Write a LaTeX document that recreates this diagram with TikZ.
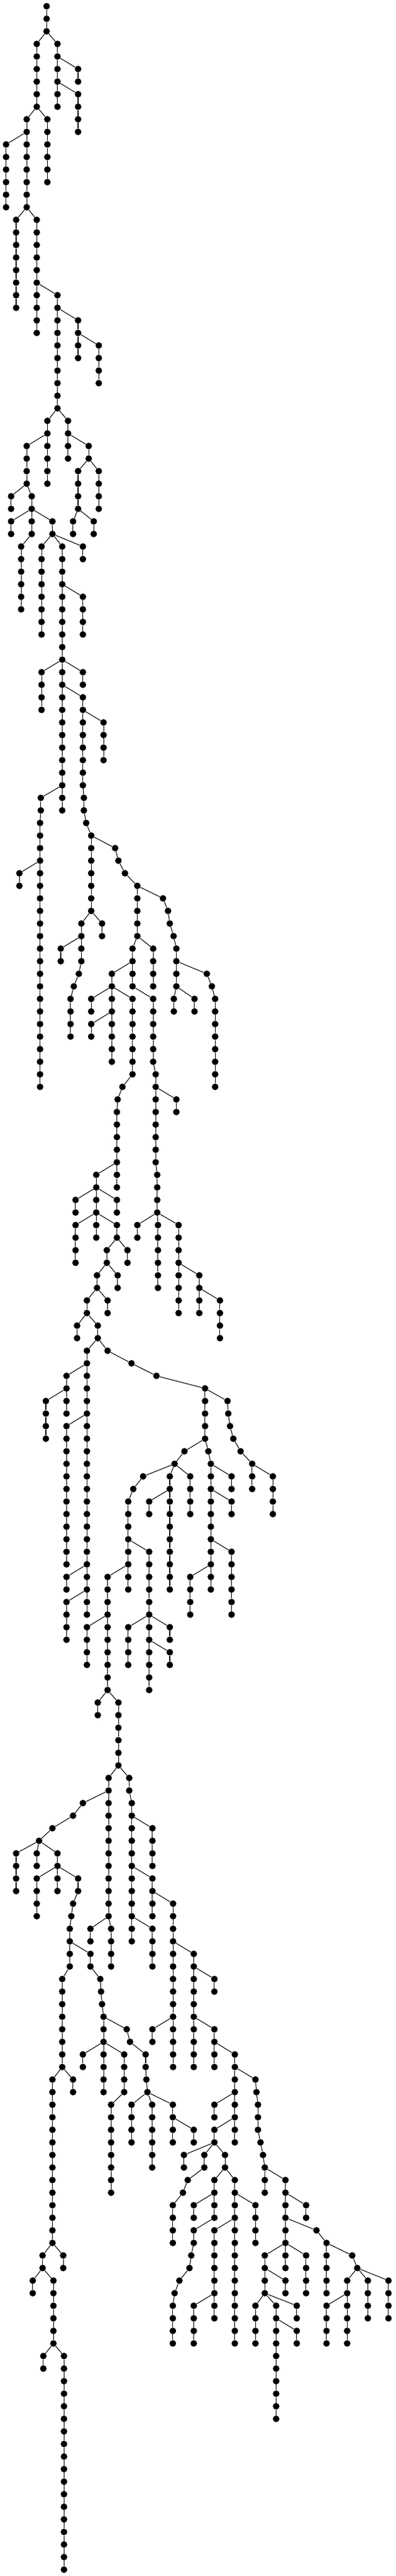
\documentclass[tikz,border=0pt]{standalone}
\usepackage{tikz}
\usetikzlibrary{positioning}
\tikzset{
    bead/.style={circle, fill=black, draw=none, inner sep=0pt, minimum size=8pt},
    stem/.style={draw=black, line width=0.8pt}
}
\begin{document}
\begin{tikzpicture}[x=0.3049pt, y=-15.201pt]
    \useasboundingbox (0,-0.4934) rectangle (1569.5,204.51);%page size
    \node (n0x185) [bead] at (185,0) {};%draws root
    % =============== each entry is x/first level/last level/x of parent ====================
    \foreach \xx/\topl/\botl/\px in {
        185/1/2/185, 146/3/8/185, 228/3/8/185, 310/5/6/228, 310/7/10/228,
        106/9/16/146, 24/11/16/106, 188/9/14/146, 64/17/24/106, 146/17/26/106,
        228/23/32/146, 310/25/26/228, 392/27/30/310, 310/27/28/310,
        188/33/34/228, 270/33/34/228, 106/35/38/188, 188/35/38/188,
        270/35/36/270, 352/35/36/270, 310/37/40/352, 392/37/40/352,
        290/41/42/310, 372/41/42/310, 44/39/40/106, 126/39/40/106,
        44/41/42/126, 126/41/42/126, 208/41/42/126, 84/43/48/126,
        165/43/50/208, 247/43/52/208, 329/43/44/208, 329/47/50/247,
        165/53/56/247, 247/53/64/247, 329/53/54/247, 329/55/62/247,
        411/57/60/329, 162/63/64/247, 333/63/64/329, 342/65/65/333,
        362/66/66/342, 362/67/72/362, 457/67/67/362, 470/68/68/457,
        496/69/69/470, 545/70/74/496, 647/71/71/545, 667/72/72/647,
        674/73/73/667, 689/74/74/674, 700/75/78/689, 821/77/77/700,
        841/78/78/821, 854/79/86/841, 690/79/80/700, 772/79/80/700,
        159/65/86/162, 77/69/70/159, 405/73/74/362, 323/73/76/362,
        241/75/76/323, 313/77/77/323, 293/78/78/313, 280/79/82/293,
        526/75/78/545, 608/75/78/545, 444/77/78/526, 362/79/80/444,
        444/79/84/444, 362/81/82/444, 526/79/85/444, 608/79/84/526,
        618/85/92/608, 700/87/88/618, 624/93/96/618, 545/97/98/624,
        627/97/102/624, 709/97/104/624, 791/101/104/709, 873/103/106/791,
        486/86/86/526, 467/87/87/486, 464/88/94/467, 382/93/96/464,
        300/95/96/382, 464/95/96/382, 300/97/100/382, 382/97/98/382,
        464/97/98/382, 424/99/100/464, 506/99/100/464, 385/101/102/424,
        467/101/102/424, 345/103/104/385, 427/103/104/385, 306/105/106/345,
        388/105/106/345, 345/107/108/388, 427/107/107/388, 522/108/108/427,
        621/109/109/522, 814/110/114/621, 903/111/111/814, 906/112/112/903,
        913/113/113/906, 926/114/114/913, 955/115/115/926, 1001/116/118/955,
        1083/117/120/1001, 345/109/128/345, 264/109/112/345, 182/111/114/264,
        264/113/124/345, 264/125/126/345, 264/127/130/345, 732/115/115/814,
        827/115/115/814, 693/116/116/732, 837/116/126/827, 919/117/118/837,
        919/119/120/837, 919/123/128/837, 755/125/128/837, 568/117/117/693,
        674/117/126/693, 755/117/120/693, 592/119/120/674, 529/118/118/568,
        509/119/126/529, 592/123/128/509, 427/125/134/509, 345/129/132/427,
        388/135/136/427, 470/135/140/427, 509/129/132/592, 592/129/134/592,
        674/129/130/592, 674/131/132/592, 431/141/152/470, 513/141/142/470,
        329/143/143/431, 290/144/144/329, 208/145/145/290, 155/146/146/208,
        64/147/150/155, 146/147/148/155, 228/147/148/155, 146/149/152/228,
        228/149/150/228, 310/149/150/228, 290/151/151/310, 283/152/152/290,
        277/153/156/283, 359/155/156/277, 247/157/164/277, 208/165/178/247,
        290/165/166/247, 169/179/180/208, 251/179/180/208, 130/181/182/169,
        212/181/186/169, 172/187/188/212, 254/187/204/212, 398/157/157/359,
        401/158/158/398, 405/159/159/401, 411/160/166/405, 503/161/161/411,
        329/163/164/411, 493/163/166/411, 441/167/174/493, 516/162/162/503,
        578/163/164/516, 581/165/165/578, 585/166/166/581, 522/167/170/585,
        604/167/172/585, 686/167/170/585, 769/169/170/686, 359/153/154/431,
        441/153/156/431, 523/143/154/513, 605/145/148/523, 605/149/152/523,
        687/151/160/605, 605/153/156/523, 769/155/164/687, 851/157/158/769,
        851/161/164/769, 932/163/170/851, 1014/165/165/932, 1018/166/166/1014,
        1024/167/169/1018, 1034/170/170/1024, 1044/171/171/1034, 1051/172/174/1044,
        605/161/162/687, 687/161/164/687, 851/167/168/932, 851/169/170/932,
        730/171/172/851, 811/171/172/851, 893/171/172/851, 745/173/173/811,
        726/174/174/745, 686/175/178/726, 851/173/176/893, 932/173/176/893,
        769/175/176/851, 769/177/178/851, 759/179/179/769, 752/180/180/759,
        712/181/181/752, 693/182/182/712, 686/183/186/693, 851/177/182/932,
        932/177/186/932, 769/183/186/851, 851/183/184/851, 1014/175/178/932,
        1133/173/178/1051, 1215/175/176/1133, 1256/177/177/1133, 1296/178/182/1256,
        1398/179/179/1296, 1418/180/180/1398, 1378/181/182/1418, 1460/181/184/1418,
        1542/181/184/1418, 1296/183/186/1378, 1378/183/186/1378, 1051/179/182/1133,
        1133/179/180/1133, 1215/179/182/1133, 1133/181/182/1051, 1014/183/186/1051,
        1096/183/192/1051, 1178/183/184/1051, 1178/185/186/1096}{
        \foreach \lev in {\topl,...,\botl}{
            \pgfmathtruncatemacro{\lup}{\lev-1}%level above
            \ifnum\lev=\topl \edef\upx{\px}\else \edef\upx{\xx}\fi%x of the node above
            \node (n\lev x\xx) [bead] at (\xx,\lev) {};%draws node
            \draw[stem] (n\lup x\upx) -- (n\lev x\xx);%connects it upward
        }
    }
\end{tikzpicture}
\end{document}
